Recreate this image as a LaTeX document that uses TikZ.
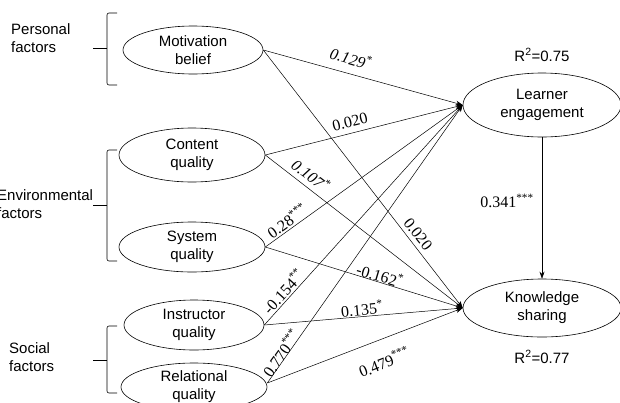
\documentclass[tikz,border=0pt]{standalone}
\usepackage{fontspec}
\setmainfont{Liberation Sans}
\newfontfamily\coeffont{Liberation Serif}
\usetikzlibrary{shapes.geometric,arrows.meta}
\begin{document}
\begin{tikzpicture}[x=1pt,y=-1pt,
  lat/.style={ellipse, draw, line width=0.6pt, inner sep=0pt, align=center,
    font=\fontsize{15}{18}\selectfont},
  link/.style={draw, line width=0.5pt, -{Stealth[length=7pt,width=5pt]}},
  coef/.style={font=\coeffont\fontsize{16}{18}\selectfont, inner sep=0pt},
  grp/.style={align=left, anchor=west, inner sep=0pt, font=\fontsize{15}{18}\selectfont},
  rsq/.style={inner sep=0pt, font=\fontsize{15}{18}\selectfont},
  brk/.style={line width=0.6pt, rounded corners=2pt}]
\useasboundingbox (0,0) rectangle (620,402);

% latent variables
\node[lat, minimum width=140pt, minimum height=48pt] (MB) at (193,50) {Motivation\\belief};
\node[lat, minimum width=146pt, minimum height=54pt] (CQ) at (192,155) {Content\\quality};
\node[lat, minimum width=146pt, minimum height=50pt] (SQ) at (192,247) {System\\quality};
\node[lat, minimum width=140pt, minimum height=50pt] (IQ) at (194,325) {Instructor\\quality};
\node[lat, minimum width=146pt, minimum height=48pt] (RQ) at (194,387) {Relational\\quality};
\node[lat, minimum width=158pt, minimum height=64pt] (LE) at (542,105) {Learner\\engagement};
\node[lat, minimum width=158pt, minimum height=58pt] (KS) at (542,308) {Knowledge\\sharing};

% paths
\draw[link] (MB.east) -- (LE.west);
\draw[link] (MB.east) -- (KS.west);
\draw[link] (CQ.east) -- (LE.west);
\draw[link] (CQ.east) -- (KS.west);
\draw[link] (SQ.east) -- (LE.west);
\draw[link] (SQ.east) -- (KS.west);
\draw[link] (IQ.east) -- (LE.west);
\draw[link] (IQ.east) -- (KS.west);
\draw[link] ([yshift=4pt]RQ.east) -- (LE.west);
\draw[link] ([yshift=4pt]RQ.east) -- (KS.west);
\draw[link] (LE.south) -- (KS.north);

% coefficients
\node[coef, rotate=-16.4] (c1) at (351,58) {\itshape 0.129\textsuperscript{*}};
\node[coef, rotate=13.9] (c2) at (350,122) {0.020};
\node[coef, rotate=-37.3] (c3) at (311,175) {\itshape 0.107\textsuperscript{*}};
\node[coef, rotate=35.5] (c4) at (287,221) {0.28\textsuperscript{***}};
\node[coef, rotate=-52.0] (c5) at (418,234) {0.020};
\node[coef, rotate=-16.6] (c6) at (380,275) {-0.162\textsuperscript{*}};
\node[coef, rotate=47.7] (c7) at (283,291) {-0.154\textsuperscript{**}};
\node[coef, rotate=5.7] (c8) at (362,309) {0.135\textsuperscript{*}};
\node[coef, rotate=54.7] (c9) at (281,353) {0.770\textsuperscript{***}};
\node[coef, rotate=21.4] (c10) at (384,362) {0.479\textsuperscript{***}};
\node[coef] (c11) at (507,201) {0.341\textsuperscript{***}};

% R squared
\node[rsq] (r1) at (542,55) {R\textsuperscript{2}=0.75};
\node[rsq] (r2) at (542,357) {R\textsuperscript{2}=0.77};

% groups
\draw[brk] (117,13) -- (107,13) -- (107,85) -- (117,85);
\draw[line width=0.6pt] (93,48) -- (107,48);
\node[grp] (g1) at (11,38) {Personal\\factors};

\draw[brk] (117,150) -- (107,150) -- (107,261) -- (117,261);
\draw[line width=0.6pt] (93,205) -- (107,205);
\node[grp] (g2) at (-3,204) {Environmental\\factors};

\draw[brk] (117,326) -- (107,326) -- (107,393) -- (117,393);
\draw[line width=0.6pt] (93,360) -- (107,360);
\node[grp] (g3) at (9,357) {Social\\factors};
\end{tikzpicture}
\end{document}
